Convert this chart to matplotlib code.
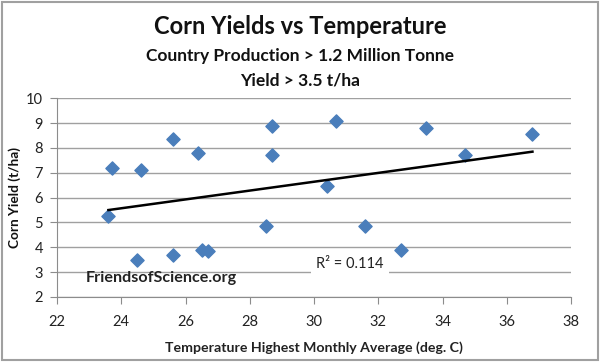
import numpy as np
import matplotlib
matplotlib.use("Agg")
import matplotlib.pyplot as plt
from matplotlib.patches import Rectangle

plt.rcParams['font.family'] = ['Lato', 'DejaVu Sans']

temperature = [23.6, 23.7, 24.6, 24.5, 25.6, 25.6, 26.4, 26.5, 26.7, 28.5,
               28.7, 28.7, 30.4, 30.7, 31.6, 32.7, 33.5, 34.7, 36.8]
yield_tha = [5.25, 7.2, 7.1, 3.5, 8.35, 3.7, 7.8, 3.9, 3.85, 4.85,
             8.9, 7.7, 6.45, 9.1, 4.85, 3.9, 8.8, 7.7, 8.55]
x_ticks = [22, 24, 26, 28, 30, 32, 34, 36, 38]
y_ticks = [2, 3, 4, 5, 6, 7, 8, 9, 10]

fig = plt.figure(figsize=(6.0, 3.62), dpi=100)
ax = fig.add_axes([57/600, 1-297/362, (571-57)/600, (297-98.3)/362])

ax.set_xlim(22, 38)
ax.set_ylim(2, 10)
ax.set_xticks(x_ticks)
ax.set_yticks(y_ticks)
ax.yaxis.grid(True, color='#a0a0a0', linewidth=1.0)
ax.set_axisbelow(True)
for s in ['top', 'right']:
    ax.spines[s].set_visible(False)
for s in ['left', 'bottom']:
    ax.spines[s].set_color('#8c8c8c')
ax.tick_params(axis='both', colors='#8c8c8c', labelcolor='#222222',
               labelsize=10.5, length=5, direction='out')
ax.tick_params(axis='x', pad=8)
ax.tick_params(axis='y', pad=5)

ax.scatter(temperature, yield_tha, marker='D', s=45, color='#4a7ebb',
           edgecolor='#4a7ebb', zorder=3)

t = np.array(temperature)
yv = np.array(yield_tha)
m, b = np.polyfit(t, yv, 1)
xs = np.array([t.min(), t.max()])
ax.plot(xs, m*xs + b, color='black', linewidth=1.8, zorder=4)

ax.text(0.57, 0.166, 'R² = 0.114', transform=ax.transAxes, fontsize=10.5,
        ha='center', va='center', color='#222222',
        bbox=dict(facecolor='white', edgecolor='none', pad=4), zorder=5)
ax.text(0.056, 0.096, 'FriendsofScience.org', transform=ax.transAxes,
        fontsize=11.6, fontweight='bold', ha='left', va='center',
        color='#222222', zorder=5)

ax.set_xlabel('Temperature Highest Monthly Average (deg. C)', fontsize=10.2,
              fontweight='bold', color='#222222', labelpad=9)
ax.set_ylabel('Corn Yield (t/ha)', fontsize=9.8, fontweight='bold',
              color='#111111', labelpad=4)

fig.text(0.5, 1-27/362, 'Corn Yields vs Temperature', fontsize=17,
         fontweight='bold', ha='center', va='center', color='#111111')
fig.text(0.5, 1-56/362, 'Country Production > 1.2 Million Tonne', fontsize=12.5,
         fontweight='bold', ha='center', va='center', color='#111111')
fig.text(0.5, 1-81/362, 'Yield > 3.5 t/ha', fontsize=12.5,
         fontweight='bold', ha='center', va='center', color='#111111')

fig.patches.append(Rectangle((2/600, 2/362), 596/600, 358/362,
                             transform=fig.transFigure, fill=False,
                             edgecolor='#a0a0a0', linewidth=1.5))

fig.savefig('out.png', dpi=100)
